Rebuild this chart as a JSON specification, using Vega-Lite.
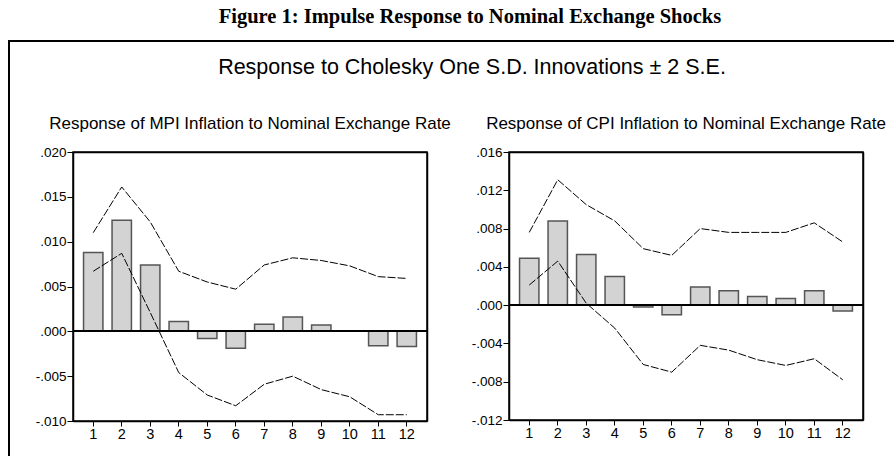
{
  "$schema": "https://vega.github.io/schema/vega-lite/v6.json",
  "background": "white",
  "padding": {"left": 8, "top": 6, "right": 0, "bottom": 0},
  "title": {"text": "Figure 1: Impulse Response to Nominal Exchange Shocks", "font": "Liberation Serif", "fontSize": 20.5, "fontWeight": "bold", "color": "black", "anchor": "middle", "offset": 7, "dx": 17},
  "columns": 5,
  "align": "each",
  "bounds": "flush",
  "spacing": {"row": 0, "column": 0},
  "concat": [
    {"width": 64, "height": 0.01, "view": {"stroke": "black", "strokeWidth": 2, "fill": null}, "data": {"values": [{"t": ""}]}, "mark": "text", "encoding": {"text": {"field": "t", "type": "nominal"}}},
    {"width": 354, "height": 0.01, "view": {"stroke": "black", "strokeWidth": 2, "fill": null}, "data": {"values": [{"t": ""}]}, "mark": "text", "encoding": {"text": {"field": "t", "type": "nominal"}}},
    {
      "width": 82, "height": 0.01, "view": {"stroke": "black", "strokeWidth": 2, "fill": null},
      "title": {"text": "Response to Cholesky One S.D. Innovations ± 2 S.E.", "orient": "bottom", "font": "Liberation Sans", "fontSize": 21.5, "fontWeight": "normal", "color": "black", "anchor": "middle", "offset": 11, "dx": 4},
      "data": {"values": [{"t": ""}]}, "mark": "text", "encoding": {"text": {"field": "t", "type": "nominal"}}
    },
    {"width": 354, "height": 0.01, "view": {"stroke": "black", "strokeWidth": 2, "fill": null}, "data": {"values": [{"t": ""}]}, "mark": "text", "encoding": {"text": {"field": "t", "type": "nominal"}}},
    {"width": 34, "height": 0.01, "view": {"stroke": "black", "strokeWidth": 2, "fill": null}, "data": {"values": [{"t": ""}]}, "mark": "text", "encoding": {"text": {"field": "t", "type": "nominal"}}},

    {"width": 0.01, "height": 110, "view": {"stroke": "black", "strokeWidth": 2, "fill": null}, "data": {"values": [{"t": ""}]}, "mark": "text", "encoding": {"text": {"field": "t", "type": "nominal"}}},
    {"width": 0.01, "height": 0.01, "view": {"stroke": null}, "data": {"values": [{"t": ""}]}, "mark": "text", "encoding": {"text": {"field": "t", "type": "nominal"}}},
    {"width": 0.01, "height": 0.01, "view": {"stroke": null}, "data": {"values": [{"t": ""}]}, "mark": "text", "encoding": {"text": {"field": "t", "type": "nominal"}}},
    {"width": 0.01, "height": 0.01, "view": {"stroke": null}, "data": {"values": [{"t": ""}]}, "mark": "text", "encoding": {"text": {"field": "t", "type": "nominal"}}},
    {"width": 0.01, "height": 0.01, "view": {"stroke": null}, "data": {"values": [{"t": ""}]}, "mark": "text", "encoding": {"text": {"field": "t", "type": "nominal"}}},

    {"width": 0.01, "height": 330, "view": {"stroke": "black", "strokeWidth": 2, "fill": null}, "data": {"values": [{"t": ""}]}, "mark": "text", "encoding": {"text": {"field": "t", "type": "nominal"}}},
    {
      "width": 354,
      "height": 269,
      "title": {"text": "Response of MPI Inflation  to Nominal Exchange Rate", "font": "Liberation Sans", "fontSize": 17, "fontWeight": "normal", "color": "black", "anchor": "middle", "offset": 12},
      "data": {"values": [
        {"h": 1, "resp": 0.0088, "up": 0.0110, "lo": 0.0067},
        {"h": 2, "resp": 0.0124, "up": 0.0161, "lo": 0.0087},
        {"h": 3, "resp": 0.0074, "up": 0.0122, "lo": 0.0021},
        {"h": 4, "resp": 0.0011, "up": 0.0067, "lo": -0.0046},
        {"h": 5, "resp": -0.0008, "up": 0.0055, "lo": -0.0071},
        {"h": 6, "resp": -0.0019, "up": 0.0047, "lo": -0.0083},
        {"h": 7, "resp": 0.0008, "up": 0.0074, "lo": -0.0059},
        {"h": 8, "resp": 0.0016, "up": 0.0082, "lo": -0.0050},
        {"h": 9, "resp": 0.0007, "up": 0.0079, "lo": -0.0065},
        {"h": 10, "resp": null, "up": 0.0073, "lo": -0.0073},
        {"h": 11, "resp": -0.0016, "up": 0.0061, "lo": -0.0093},
        {"h": 12, "resp": -0.0017, "up": 0.0059, "lo": -0.0093}
      ]},
      "resolve": {"axis": {"x": "independent", "y": "independent"}},
      "layer": [
        {
          "mark": {"type": "bar", "fill": "#d3d3d3", "stroke": "#555555", "strokeWidth": 1.5},
          "encoding": {
            "x": {"field": "h", "type": "ordinal", "scale": {"paddingInner": 0.32, "paddingOuter": 0.37}, "axis": {"labelAngle": 0, "title": null, "labelFontSize": 14.5, "tickSize": 5, "domain": true}},
            "y": {"field": "resp", "type": "quantitative", "scale": {"domain": [-0.01, 0.02], "nice": false, "zero": false}, "axis": {"values": [-0.01, -0.005, 0, 0.005, 0.01, 0.015, 0.02], "tickCount": 12, "labelOverlap": false, "labelExpr": "(datum.value < 0 ? '-' : '') + replace(format(abs(datum.value), '.3f'), '0.', '.')", "title": null, "domain": true}}
          }
        },
        {"mark": {"type": "rule", "color": "black", "strokeWidth": 1.5}, "encoding": {"y": {"datum": 0, "axis": null}}},
        {"mark": {"type": "line", "color": "black", "strokeWidth": 1, "strokeDash": [8, 2]}, "encoding": {
          "x": {"field": "h", "type": "ordinal", "axis": {"orient": "top", "labels": false, "ticks": false, "domain": true, "title": null}},
          "y": {"field": "up", "type": "quantitative", "axis": {"orient": "right", "labels": false, "ticks": false, "domain": true, "title": null}}}},
        {"mark": {"type": "line", "color": "black", "strokeWidth": 1, "strokeDash": [8, 2]}, "encoding": {
          "x": {"field": "h", "type": "ordinal", "axis": null},
          "y": {"field": "lo", "type": "quantitative", "axis": null}}}
      ]
    },
    {"width": 0.01, "height": 0.01, "view": {"stroke": null}, "data": {"values": [{"t": ""}]}, "mark": "text", "encoding": {"text": {"field": "t", "type": "nominal"}}},
    {
      "width": 354,
      "height": 268,
      "title": {"text": "Response of CPI Inflation to Nominal Exchange Rate", "font": "Liberation Sans", "fontSize": 17, "fontWeight": "normal", "color": "black", "anchor": "middle", "offset": 12},
      "data": {"values": [
        {"h": 1, "resp": 0.0049, "up": 0.0076, "lo": 0.0021},
        {"h": 2, "resp": 0.0088, "up": 0.0131, "lo": 0.0046},
        {"h": 3, "resp": 0.0053, "up": 0.0105, "lo": 0.0002},
        {"h": 4, "resp": 0.0030, "up": 0.0088, "lo": -0.0024},
        {"h": 5, "resp": -0.0002, "up": 0.0059, "lo": -0.0062},
        {"h": 6, "resp": -0.0010, "up": 0.0052, "lo": -0.0070},
        {"h": 7, "resp": 0.0019, "up": 0.0080, "lo": -0.0042},
        {"h": 8, "resp": 0.0015, "up": 0.0076, "lo": -0.0047},
        {"h": 9, "resp": 0.0009, "up": 0.0076, "lo": -0.0057},
        {"h": 10, "resp": 0.0007, "up": 0.0076, "lo": -0.0063},
        {"h": 11, "resp": 0.0015, "up": 0.0086, "lo": -0.0056},
        {"h": 12, "resp": -0.0006, "up": 0.0066, "lo": -0.0078}
      ]},
      "resolve": {"axis": {"x": "independent", "y": "independent"}},
      "layer": [
        {
          "mark": {"type": "bar", "fill": "#d3d3d3", "stroke": "#555555", "strokeWidth": 1.5},
          "encoding": {
            "x": {"field": "h", "type": "ordinal", "scale": {"paddingInner": 0.32, "paddingOuter": 0.37}, "axis": {"labelAngle": 0, "title": null, "labelFontSize": 14.5, "tickSize": 5, "domain": true}},
            "y": {"field": "resp", "type": "quantitative", "scale": {"domain": [-0.012, 0.016], "nice": false, "zero": false}, "axis": {"values": [-0.012, -0.008, -0.004, 0, 0.004, 0.008, 0.012, 0.016], "tickCount": 12, "labelOverlap": false, "labelExpr": "(datum.value < 0 ? '-' : '') + replace(format(abs(datum.value), '.3f'), '0.', '.')", "title": null, "domain": true}}
          }
        },
        {"mark": {"type": "rule", "color": "black", "strokeWidth": 1.5}, "encoding": {"y": {"datum": 0, "axis": null}}},
        {"mark": {"type": "line", "color": "black", "strokeWidth": 1, "strokeDash": [8, 2]}, "encoding": {
          "x": {"field": "h", "type": "ordinal", "axis": {"orient": "top", "labels": false, "ticks": false, "domain": true, "title": null}},
          "y": {"field": "up", "type": "quantitative", "axis": {"orient": "right", "labels": false, "ticks": false, "domain": true, "title": null}}}},
        {"mark": {"type": "line", "color": "black", "strokeWidth": 1, "strokeDash": [8, 2]}, "encoding": {
          "x": {"field": "h", "type": "ordinal", "axis": null},
          "y": {"field": "lo", "type": "quantitative", "axis": null}}}
      ]
    },
    {"width": 0.01, "height": 0.01, "view": {"stroke": null}, "data": {"values": [{"t": ""}]}, "mark": "text", "encoding": {"text": {"field": "t", "type": "nominal"}}}
  ],
  "config": {
    "font": "Liberation Sans",
    "view": {"stroke": "black", "strokeWidth": 1.5},
    "axis": {"grid": false, "domain": false, "domainColor": "black", "domainWidth": 1.5, "ticks": true, "tickColor": "black", "tickSize": 6, "tickWidth": 1, "labelColor": "black", "labelFontSize": 13.5, "labelFont": "Liberation Sans", "labelPadding": 1}
  }
}
